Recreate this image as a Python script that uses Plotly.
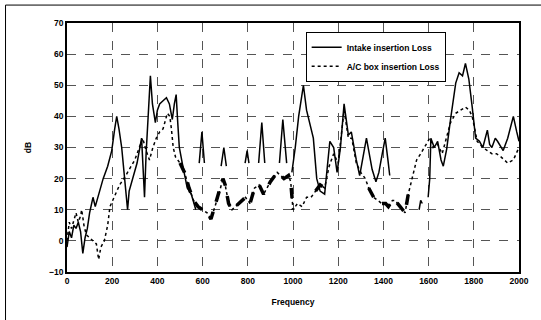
import plotly.graph_objects as go

# ---------------- data ----------------
intake_freq = [0, 10, 20, 30, 40, 50, 60, 70, 80, 90, 100, 115, 125, 140, 160, 180, 198, 211, 220, 230,
               242, 255, 268, 275, 290, 310, 330, 338, 343, 350, 362, 369, 378, 391, 400, 410, 425, 440,
               453, 466, 475, 483, 490, 497, 510, 532, 550, 570,
               575,
               585, 597, 608,
               612,
               682, 694, 705,
               710,
               788, 797, 805,
               810,
               848, 862, 875,
               880,
               940, 955, 972,
               985,
               995, 1010, 1025, 1046, 1060, 1075, 1090, 1105, 1120, 1140, 1150, 1163, 1180, 1195, 1210,
               1226, 1245, 1258, 1280, 1295, 1310, 1325, 1340, 1350, 1367, 1380, 1395, 1408, 1420, 1428,
               1440,
               1558, 1565, 1572,
               1580,
               1598, 1605, 1610, 1625, 1640, 1655, 1665, 1680, 1697, 1710, 1720, 1735, 1750, 1763, 1770,
               1778, 1793, 1808, 1825, 1840, 1860, 1870, 1880, 1895, 1905, 1930, 1950, 1975, 1990, 2000]
intake_db = [-2, 3, 1, 5, 4, 6, 3, -4, 1, 4, 9, 14, 11, 15, 20, 24, 29, 36, 40, 36,
             30, 20, 10, 16, 20, 25, 33, 22, 14, 28, 46, 53, 44, 38, 42, 44, 45, 46,
             44, 39, 44, 47, 38, 30, 25, 17, 15, 10,
             None,
             25, 35, 25,
             None,
             24, 30, 24,
             None,
             25, 29, 25,
             None,
             25, 38, 25,
             None,
             25, 39, 25,
             None,
             22, 30, 40, 50, 42, 37, 33, 20, 16, 15, 22, 32, 30, 22, 30,
             44, 34, 35, 26, 21, 27, 33, 27, 23, 19, 22, 28, 33, 26, 21,
             None,
             10, 13, 12,
             None,
             14, 20, 33, 30, 32, 26, 24, 29.5, 39, 46, 50.7, 54, 53, 57, 55,
             52, 43, 33, 32, 30, 35.6, 31, 30, 33, 32, 29, 33, 40, 35, 32]

acbox_freq = [0, 10, 20, 30, 40, 50, 60, 65, 75, 85, 100, 115, 130, 140, 150, 165, 180, 190, 210, 233,
              260, 285, 300, 320, 335, 350, 365, 380, 395, 410, 425, 444, 455, 462, 470, 480, 500, 520,
              540, 560, 580, 600, 620, 637, 650, 672, 690, 700, 715, 730, 760, 790, 810, 830, 850, 870,
              900, 930, 960, 980, 990, 1000, 1020, 1040, 1060, 1080, 1100, 1120, 1140, 1160, 1180, 1200,
              1226, 1245, 1260, 1280, 1300, 1320, 1335, 1357, 1375, 1393, 1410, 1422, 1440, 1452, 1474,
              1496, 1510, 1532, 1547, 1565, 1580, 1605, 1620, 1640, 1660, 1680, 1697, 1720, 1740, 1763,
              1780, 1793, 1815, 1840, 1860, 1880, 1900, 1920, 1950, 1975, 2000]
acbox_db = [0, 6, 4, 7, 9, 6, 8, 10, 5, 2, 1, 0, -1, -6, -2, 0, 5, 11, 14, 18,
            21, 24, 26, 30, 33, 29, 26, 30, 33, 35, 36, 41, 40, 36, 30, 27, 25, 22,
            17, 13, 11, 10, 9, 7, 10, 15, 20, 18, 12, 10, 12, 14, 12, 17, 18, 15,
            19, 22, 20, 21, 19, 10, 12, 11, 14, 14, 16, 18, 17, 24, 28, 25,
            42, 33, 33, 25, 22, 20, 17, 14, 13, 12, 12, 11, 13, 13, 11,
            9, 15, 22, 26, 28, 30, 33, 30, 31, 28, 33, 38, 41, 42, 43,
            42, 40, 32, 30, 29, 28, 28, 27, 25, 26, 30]

x_ticks = [0, 200, 400, 600, 800, 1000, 1200, 1400, 1600, 1800, 2000]
y_ticks = [-10, 0, 10, 20, 30, 40, 50, 60, 70]

# heavy (blotchy) portions of the A/C box curve, taken from the same arrays
heavy_ranges = [(500, 1000), (1100, 1145), (1330, 1515)]
heavy_db = [v if any(a <= f <= b for a, b in heavy_ranges) else None
            for f, v in zip(acbox_freq, acbox_db)]

FONT = "Liberation Sans"
BOLD = dict(family=FONT, size=8.5, color="black", weight="bold")

fig = go.Figure()
fig.add_trace(go.Scatter(x=acbox_freq, y=heavy_db, mode="lines", showlegend=False,
                         line=dict(color="black", width=3.5, dash="dash"),
                         connectgaps=False, hoverinfo="skip"))
fig.add_trace(go.Scatter(x=acbox_freq, y=acbox_db, mode="lines", name="A/C box insertion Loss",
                         line=dict(color="black", width=1.5, dash="dot")))
fig.add_trace(go.Scatter(x=intake_freq, y=intake_db, mode="lines", name="Intake insertion Loss",
                         line=dict(color="black", width=1.5), connectgaps=False))

fig.update_layout(
    width=541, height=320,
    margin=dict(l=67, r=19, t=23, b=48),
    paper_bgcolor="white", plot_bgcolor="white",
    font=BOLD,
    showlegend=True,
    legend=dict(x=0.528, y=0.965, xanchor="left", yanchor="top",
                bgcolor="white", bordercolor="black", borderwidth=1,
                font=BOLD, traceorder="reversed", itemwidth=30, tracegroupgap=0),
    xaxis=dict(range=[0, 2000], tickvals=x_ticks, ticks="", showline=True, linecolor="black",
               linewidth=1.5, mirror=True, showgrid=True, gridcolor="#555", griddash="dash",
               gridwidth=0.8, zeroline=False, tickfont=BOLD,
               title=dict(text="Frequency", font=BOLD, standoff=14)),
    yaxis=dict(range=[-10, 70], tickvals=y_ticks, ticks="", showline=True, linecolor="black",
               linewidth=1.5, mirror=True, showgrid=True, gridcolor="#555", griddash="dash",
               gridwidth=0.8, zeroline=False, tickfont=BOLD,
               title=dict(text="dB", font=BOLD, standoff=16)),
    shapes=[
        dict(type="line", xref="paper", yref="paper", x0=-0.136, x1=1.05, y0=1.072, y1=1.072,
             line=dict(color="black", width=1)),
        dict(type="line", xref="paper", yref="paper", x0=-0.136, x1=-0.136, y0=1.072, y1=-0.2,
             line=dict(color="black", width=1)),
    ],
)

fig.write_html("out.html", config={"displayModeBar": False},
               post_script="document.body.style.margin='0';document.body.style.overflow='hidden';")
